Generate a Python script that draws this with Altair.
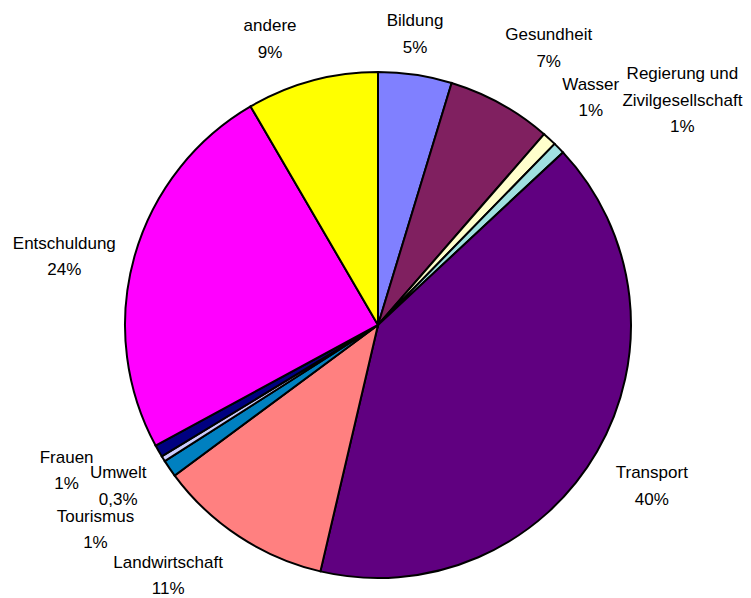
import math
import altair as alt
import pandas as pd

# ---- data ----
categories = ["Bildung", "Gesundheit", "Wasser", "Regierung und Zivilgesellschaft",
              "Transport", "Landwirtschaft", "Tourismus", "Umwelt", "Frauen",
              "Entschuldung", "andere"]
values = [4.7, 6.7, 0.9, 0.75, 40.6, 11.2, 1.1, 0.36, 0.78, 24.5, 8.4]
pct_labels = ["5%", "7%", "1%", "1%", "40%", "11%", "1%", "0,3%", "1%", "24%", "9%"]
name_lines = [["Bildung"], ["Gesundheit"], ["Wasser"], ["Regierung und", "Zivilgesellschaft"],
              ["Transport"], ["Landwirtschaft"], ["Tourismus"], ["Umwelt"], ["Frauen"],
              ["Entschuldung"], ["andere"]]
colors = ["#8080FF", "#802060", "#FFFFCC", "#A0E0E0", "#600080", "#FF8080",
          "#0080C0", "#CCCCFF", "#000080", "#FF00FF", "#FFFF00"]

# ---- label layout (angle nudge in degrees from slice middle, radius in px of block centre) ----
label_nudge = [-1.2, 2.7, 0.5, 8.0, 0.5, 6.6, -1.4, 0.0, 4.7, -3.4, -5.6]
label_radius = [293, 325, 311, 378, 318, 327, 349, 306, 344, 321, 305]
LH = 26.5

CX, CY, R = 370, 317, 253

total = sum(values)
rows = []
cum = 0.0
for i, (c, v) in enumerate(zip(categories, values)):
    mid = (cum + v / 2) / total * 360.0
    cum += v
    lines = name_lines[i] + [pct_labels[i]]
    a = math.radians(mid + label_nudge[i])
    # block centre, then move to the first line (vega draws lines downward from anchor)
    bx = label_radius[i] * math.sin(a)
    by = -label_radius[i] * math.cos(a) - (len(lines) - 1) * LH / 2
    rows.append({
        "cat": c, "value": v, "order": i,
        "label": lines,
        "ltheta": math.atan2(bx, -by),
        "lrad": math.hypot(bx, by),
    })
df = pd.DataFrame(rows)

color_scale = alt.Scale(domain=categories, range=colors)

pie = alt.Chart(df).mark_arc(radius=R, stroke="black", strokeWidth=2).encode(
    theta=alt.Theta("value:Q", stack=True),
    order=alt.Order("order:Q"),
    color=alt.Color("cat:N", scale=color_scale, legend=None),
    x=alt.value(CX),
    y=alt.value(CY),
)

labels = alt.Chart(df).mark_text(
    font="Liberation Sans", fontSize=17, lineHeight=LH,
    align="center", baseline="middle", color="black",
).encode(
    theta=alt.Theta("ltheta:Q", scale=None),
    radius=alt.Radius("lrad:Q", scale=None),
    text="label",
    x=alt.value(CX),
    y=alt.value(CY),
)

chart = alt.layer(pie, labels).properties(
    width=735, height=590,
    autosize=alt.AutoSizeParams(type="none"),
    padding=0,
).configure_view(stroke=None)

chart.save("out.html", embed_options={"renderer": "svg", "actions": False})
